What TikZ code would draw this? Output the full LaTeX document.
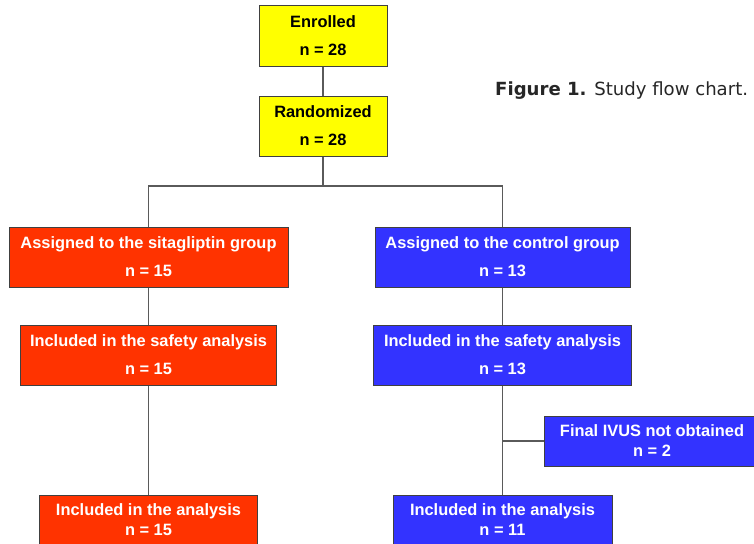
\documentclass[tikz,border=0pt]{standalone}
\usepackage{fontspec}
\setmainfont{Liberation Sans}
\newfontfamily\capfont{DejaVu Sans}
\definecolor{boxyellow}{HTML}{FFFF00}
\definecolor{boxred}{HTML}{FF3300}
\definecolor{boxblue}{HTML}{3333FF}
\definecolor{edgegray}{HTML}{404040}
\definecolor{linegray}{HTML}{5A5A5A}
\begin{document}
\begin{tikzpicture}[x=1pt,y=-1pt,
  flowbox/.style={draw=edgegray, line width=1pt, rectangle, align=center, inner sep=0pt,
    font=\bfseries\fontsize{16.4}{28}\selectfont},
  tallbox/.style={flowbox, minimum height=60pt},
  shortbox/.style={flowbox, font=\bfseries\fontsize{16.4}{20}\selectfont},
  yel/.style={fill=boxyellow, text=black},
  red/.style={fill=boxred, text=white},
  blu/.style={fill=boxblue, text=white},
  link/.style={draw=linegray, line width=1.5pt}
]
\useasboundingbox (0,0) rectangle (754,543);
\clip (0,0) rectangle (754,543);
\fill[white] (0,0) rectangle (754,543);

\node[tallbox, yel, minimum width=128pt] (enr) at (323,36) {Enrolled\\n = 28};
\node[tallbox, yel, minimum width=128pt] (rnd) at (323,126) {Randomized\\n = 28};

\node[tallbox, red, minimum width=279pt] (sit) at (148.5,257) {Assigned to the sitagliptin group\\n = 15};
\node[tallbox, red, minimum width=256pt] (sitsafe) at (148.5,355) {Included in the safety analysis\\n = 15};
\node[shortbox, red, minimum width=218pt, minimum height=50pt] (sitana) at (148.5,520) {Included in the analysis\\n = 15};

\node[tallbox, blu, minimum width=255pt] (ctl) at (502.5,257) {Assigned to the control group\\n = 13};
\node[tallbox, blu, minimum width=258pt] (ctlsafe) at (502.5,355) {Included in the safety analysis\\n = 13};
\node[shortbox, blu, minimum width=219pt, minimum height=50pt] (ctlana) at (502.5,520) {Included in the analysis\\n = 11};
\node[shortbox, blu, minimum width=216pt, minimum height=50pt] (ivus) at (652,441) {Final IVUS not obtained\\n = 2};

\node[anchor=base west, inner sep=0pt, font=\capfont\fontsize{18.1}{20}\selectfont, text=black!85] (cap) at (495,95) {\textbf{Figure 1.} Study flow chart.};

\coordinate (split) at (323,186);
\draw[link] (enr) -- (rnd);
\draw[link] (rnd) -- (split);
\draw[link] (split) -| (sit.north);
\draw[link] (split) -| (ctl.north);
\draw[link] (sit) -- (sitsafe);
\draw[link] (sitsafe) -- (sitana);
\draw[link] (ctl) -- (ctlsafe);
\draw[link] (ctlsafe) -- (ctlana);
\draw[link] (ctlsafe.south |- ivus.west) -- (ivus.west);
\end{tikzpicture}
\end{document}
